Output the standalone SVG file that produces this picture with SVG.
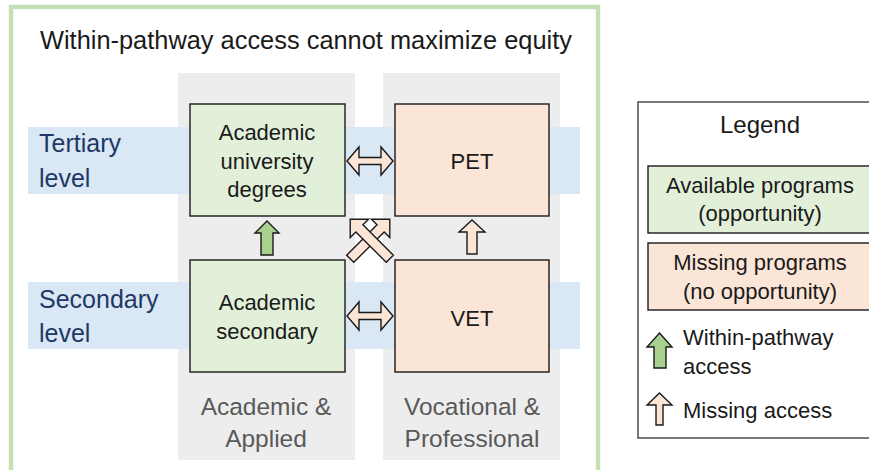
<svg xmlns="http://www.w3.org/2000/svg" width="869" height="470" viewBox="0 0 869 470">
<style>
text{font-family:"Liberation Sans",Arial,sans-serif;}
.col{fill:#ededed;}
.band{fill:#dae7f5;}
.g{fill:#e2f0d9;stroke:#1a1a1a;stroke-width:1.4;}
.p{fill:#fbe5d6;stroke:#1a1a1a;stroke-width:1.4;}
.ar{stroke:#1a1a1a;stroke-width:1.4;stroke-linejoin:miter;}
.box{font-size:22px;fill:#1a1a1a;text-anchor:middle;}
.lvl{font-size:25px;fill:#1f3864;}
.cl{font-size:24.5px;fill:#595959;text-anchor:middle;}
.lg{font-size:22px;fill:#1a1a1a;}
</style>
<defs>
<path id="xarrow" d="M0,-28 L13,-15 L5,-15 L5,28 L-5,28 L-5,-15 L-13,-15 Z"/>
</defs>
<rect x="0" y="0" width="869" height="470" fill="#ffffff"/>
<rect x="11" y="7" width="587" height="480" fill="none" stroke="#c5e0b4" stroke-width="4.5"/>
<text x="306" y="49" font-size="25.4" fill="#1a1a1a" text-anchor="middle">Within-pathway access cannot maximize equity</text>
<g id="columns">
<rect class="col" x="178" y="73" width="177" height="387"/>
<rect class="col" x="383" y="73" width="177" height="387"/>
</g>
<g id="tertiary-level">
<rect class="band" x="28" y="127" width="552" height="67"/>
<text class="lvl" x="39" y="152">Tertiary</text>
<text class="lvl" x="39" y="187">level</text>
</g>
<g id="secondary-level">
<rect class="band" x="28" y="282" width="552" height="67"/>
<text class="lvl" x="39" y="308">Secondary</text>
<text class="lvl" x="39" y="342">level</text>
</g>
<g id="col-labels">
<text class="cl" x="266" y="415">Academic &amp;</text>
<text class="cl" x="266" y="447">Applied</text>
<text class="cl" x="472" y="415">Vocational &amp;</text>
<text class="cl" x="472" y="447">Professional</text>
</g>
<g id="academic-university">
<rect class="g" x="190" y="104" width="155" height="112"/>
<text class="box" x="267" y="140">Academic</text>
<text class="box" x="267" y="169">university</text>
<text class="box" x="267" y="197">degrees</text>
</g>
<g id="pet">
<rect class="p" x="395" y="104" width="154" height="112"/>
<text class="box" x="472" y="169">PET</text>
</g>
<g id="academic-secondary">
<rect class="g" x="190" y="260" width="155" height="112"/>
<text class="box" x="267" y="310">Academic</text>
<text class="box" x="267" y="339">secondary</text>
</g>
<g id="vet">
<rect class="p" x="395" y="260" width="154" height="112"/>
<text class="box" x="472" y="326">VET</text>
</g>
<g id="connectors">
<path class="ar" fill="#fbe5d6" d="M347,161 L359,147 L359,157.5 L381,157.5 L381,147 L393,161 L381,175 L381,164.5 L359,164.5 L359,175 Z"/>
<path class="ar" fill="#fbe5d6" d="M347,316 L359,302 L359,312.5 L381,312.5 L381,302 L393,316 L381,330 L381,319.5 L359,319.5 L359,330 Z"/>
<path class="ar" fill="#a9d18e" d="M267,221 L279,233 L273,233 L273,255 L261,255 L261,233 L255,233 Z"/>
<path class="ar" fill="#fbe5d6" d="M472,220 L485,232 L477,232 L477,254 L467,254 L467,232 L459,232 Z"/>
<use href="#xarrow" class="ar" fill="#fbe5d6" transform="translate(370,239) rotate(45)"/>
<use href="#xarrow" class="ar" fill="#fbe5d6" transform="translate(370,239) rotate(-45)"/>
</g>
<g id="legend">
<rect x="638" y="102" width="240" height="336" fill="#ffffff" stroke="#333333" stroke-width="1.3"/>
<text x="760" y="133" font-size="24" fill="#1a1a1a" text-anchor="middle">Legend</text>
<rect class="g" x="648" y="166" width="230" height="67"/>
<text class="lg" x="760" y="193" text-anchor="middle">Available programs</text>
<text class="lg" x="760" y="221" text-anchor="middle">(opportunity)</text>
<rect class="p" x="648" y="243" width="230" height="67"/>
<text class="lg" x="760" y="270" text-anchor="middle">Missing programs</text>
<text class="lg" x="760" y="299" text-anchor="middle">(no opportunity)</text>
<path class="ar" fill="#a9d18e" d="M659.5,333 L672,347 L666,347 L666,368 L654,368 L654,347 L647,347 Z"/>
<text class="lg" x="683" y="345" font-size="23">Within-pathway</text>
<text class="lg" x="683" y="374" font-size="23">access</text>
<path class="ar" fill="#fbe5d6" d="M659.5,393 L672,405 L663,405 L663,425 L656,425 L656,405 L647,405 Z"/>
<text class="lg" x="683" y="418">Missing access</text>
</g>
</svg>
